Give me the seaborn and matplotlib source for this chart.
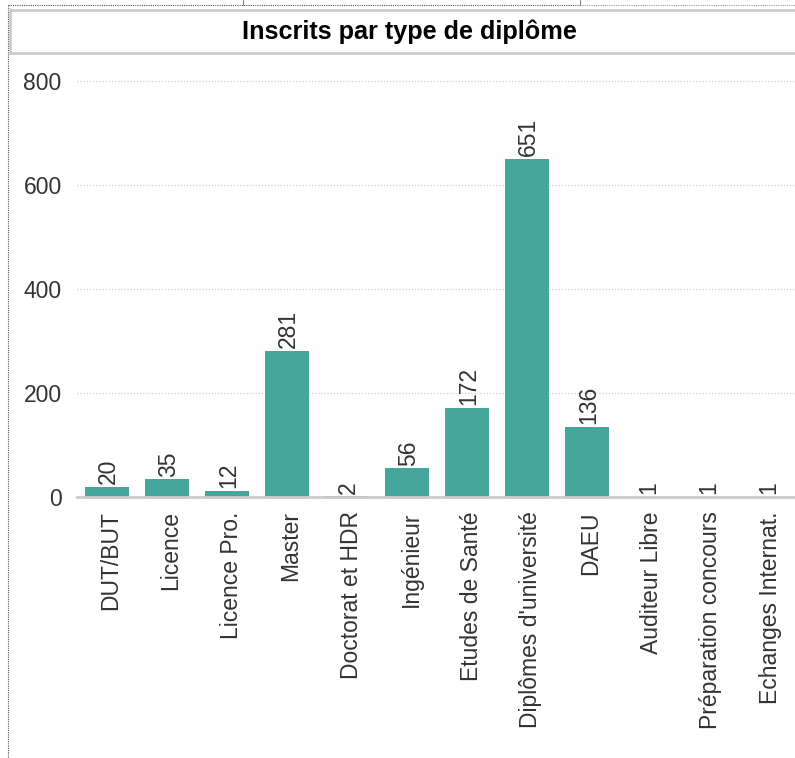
import matplotlib
matplotlib.use("Agg")
import matplotlib.pyplot as plt
import matplotlib.transforms as mtransforms
from matplotlib.lines import Line2D
import seaborn as sns
import pandas as pd
import numpy as np

categories = ["DUT/BUT", "Licence", "Licence Pro.", "Master", "Doctorat et HDR",
              "Ingénieur", "Etudes de Santé", "Diplômes d'université", "DAEU",
              "Auditeur Libre", "Préparation concours", "Echanges Internat."]
values = [20, 35, 12, 281, 2, 56, 172, 651, 136, 1, 1, 1]
yticks = [0, 200, 400, 600, 800]
title = "Inscrits par type de diplôme"

BAR = "#46A69C"
TXT = "#333333"

sns.set_theme(style="white")
plt.rcParams["font.family"] = ["Liberation Sans", "DejaVu Sans"]

W, H = 795, 758
fig = plt.figure(figsize=(W / 100, H / 100), dpi=100)

def fx(px):
    return px / W

def fy(py):
    return 1 - py / H

x0, x1 = 77, 797
y_zero = 497.5
scale = 416.5 / 800.0
ymax = 830
y_top = y_zero - ymax * scale
ax = fig.add_axes([fx(x0), fy(y_zero), (x1 - x0) / W, (y_zero - y_top) / H])

df = pd.DataFrame({"cat": categories, "val": values})
sns.barplot(data=df, x="cat", y="val", color=BAR, width=0.73, ax=ax,
            saturation=1, edgecolor="none")

ax.set_xlim(-0.5, len(categories) - 0.5)
ax.set_ylim(0, ymax)
ax.set_xlabel("")
ax.set_ylabel("")

for s in ["top", "right", "left"]:
    ax.spines[s].set_visible(False)
ax.spines["bottom"].set_color("#cccccc")
ax.spines["bottom"].set_linewidth(2)

ax.set_yticks(yticks)
ax.set_yticklabels([str(t) for t in yticks], fontsize=16.5, color=TXT)
ax.tick_params(axis="y", length=0, pad=11)
for t in yticks[1:]:
    ax.axhline(t, color="#cfcfcf", linestyle=(0, (1, 1.5)), linewidth=0.9, zorder=0)

ax.set_xticks(range(len(categories)))
ax.set_xticklabels(categories, rotation=90, fontsize=16.5, color=TXT, va="top", ha="center")
ax.tick_params(axis="x", which="major", length=0, pad=10)
ax.set_xticks(np.arange(-0.5, len(categories), 1), minor=True)
ax.tick_params(axis="x", which="minor", length=7, width=2, color="#cccccc", direction="out")
shift = mtransforms.ScaledTranslation(4 / 100, 0, fig.dpi_scale_trans)
for lbl in ax.get_xticklabels():
    lbl.set_transform(lbl.get_transform() + shift)

for i, v in enumerate(values):
    ax.annotate(str(v), (i, v), xytext=(1, 2), textcoords="offset points",
                rotation=90, ha="center", va="bottom", fontsize=16.5, color=TXT)

# frame decorations
def hline(y, xa, xb, **kw):
    fig.add_artist(Line2D([fx(xa), fx(xb)], [fy(y), fy(y)], transform=fig.transFigure, **kw))

def vline(x, ya, yb, **kw):
    fig.add_artist(Line2D([fx(x), fx(x)], [fy(ya), fy(yb)], transform=fig.transFigure, **kw))

dotted = dict(color="#555555", linestyle=(0, (1, 1)), linewidth=0.8)
hline(5, 8, 580, **dotted)
hline(5, 580, 795, color="#999999", linestyle=(0, (1, 1)), linewidth=0.8)
vline(8, 5, 758, **dotted)
vline(243, 0, 5, color="#888888", linewidth=0.8)
vline(580, 0, 5, color="#888888", linewidth=0.8)

grey = dict(color="#cccccc", linewidth=2)
hline(9.5, 9, 795, **grey)
hline(52.5, 9, 795, **grey)
vline(9.5, 9, 52.5, **grey)

fig.text(fx(409), fy(32), title, ha="center", va="center",
         fontsize=18.2, fontweight="bold", color="black")

fig.savefig("out.png", dpi=100)
